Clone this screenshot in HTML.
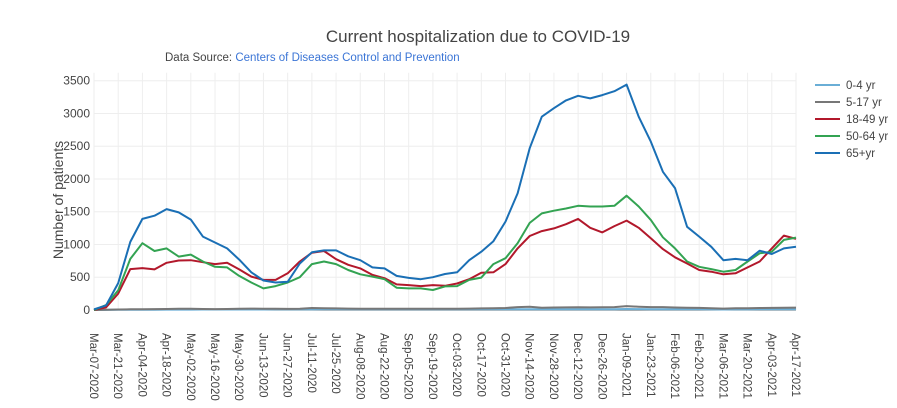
<!DOCTYPE html>
<html><head><meta charset="utf-8"><style>
body{margin:0;background:#fff;}
svg{display:block;font-family:"Liberation Sans",sans-serif;}
</style></head><body>
<svg id="chart" width="897" height="408" xmlns="http://www.w3.org/2000/svg">
<text x="478" y="42" text-anchor="middle" font-size="17" fill="#444">Current hospitalization due to COVID-19</text>
<text x="165" y="61" font-size="11.5" fill="#444">Data Source: <tspan fill="#3b75d6">Centers of Diseases Control and Prevention</tspan></text>
<text transform="translate(63,200) rotate(-90)" text-anchor="middle" font-size="14" fill="#444">Number of patients</text>
<g id="grid"></g><g id="yticks"></g><g id="xticks"></g><g id="series"></g><g id="legend"></g>
</svg>
<script>
const weeks = 59;
const xTickLabels = ["Mar-07-2020","Mar-21-2020","Apr-04-2020","Apr-18-2020","May-02-2020","May-16-2020","May-30-2020","Jun-13-2020","Jun-27-2020","Jul-11-2020","Jul-25-2020","Aug-08-2020","Aug-22-2020","Sep-05-2020","Sep-19-2020","Oct-03-2020","Oct-17-2020","Oct-31-2020","Nov-14-2020","Nov-28-2020","Dec-12-2020","Dec-26-2020","Jan-09-2021","Jan-23-2021","Feb-06-2021","Feb-20-2021","Mar-06-2021","Mar-20-2021","Apr-03-2021","Apr-17-2021"];
const yTicks = [0,500,1000,1500,2000,2500,3000,3500];
const seriesNames = ["0-4 yr","5-17 yr","18-49 yr","50-64 yr","65+yr"];
const seriesColors = ["#6aaed6","#777777","#b2182b","#33a352","#1a6fb5"];
const age0_4 = [0,2,3,4,5,5,6,6,6,7,7,8,8,8,8,9,9,9,9,10,10,10,10,10,10,10,10,10,10,10,10,10,10,10,10,10,12,12,12,12,12,12,12,12,15,14,12,12,10,10,10,9,8,9,9,10,10,10,10];
const age5_17 = [0,5,8,10,12,14,16,18,18,16,14,15,20,22,20,18,17,20,30,28,24,22,20,20,20,18,18,20,18,18,20,22,24,28,30,45,50,35,38,40,42,40,42,45,60,50,45,45,38,35,32,28,22,26,28,30,32,34,36];
const age18_49 = [0,40,250,625,640,620,720,755,760,730,700,720,620,510,460,460,560,740,875,900,775,690,635,535,485,390,380,365,380,370,405,470,570,575,700,940,1130,1205,1245,1310,1390,1255,1185,1280,1365,1255,1095,930,805,710,610,585,545,560,650,740,940,1135,1085];
const age50_64 = [0,75,300,780,1020,900,940,815,845,740,660,650,520,420,330,365,420,500,700,740,700,610,545,510,470,340,330,330,305,360,365,460,495,700,790,1020,1330,1475,1515,1550,1590,1580,1580,1590,1745,1580,1375,1110,940,740,660,625,585,610,740,865,890,1070,1105];
const age65 = [10,70,410,1040,1390,1440,1540,1490,1380,1120,1030,940,770,575,450,420,430,710,880,910,910,820,760,650,635,520,490,470,500,550,575,760,890,1050,1350,1780,2470,2950,3080,3200,3270,3230,3280,3340,3440,2950,2570,2110,1860,1270,1120,965,760,780,760,905,855,940,965];
const seriesData = [age0_4, age5_17, age18_49, age50_64, age65];

const X0=94, X1=796, Y0=310, YTOP=80.7;
const xs = i => X0 + (X1-X0)*i/(weeks-1);
const ys = v => Y0 - (Y0-YTOP)*v/3500;
const NS="http://www.w3.org/2000/svg";
function mk(tag, parent){const e=document.createElementNS(NS,tag);document.getElementById(parent).appendChild(e);return e;}

yTicks.forEach(t=>{
  const l=mk("line","grid");
  
  
  l.setAttribute("x1",X0);l.setAttribute("x2",X1);l.setAttribute("y1",ys(t));l.setAttribute("y2",ys(t));
  l.setAttribute("stroke",t===0?"#444":"#eee");l.setAttribute("stroke-width",t===0?1:1);
  const tx=mk("text","yticks");
  
  
  tx.setAttribute("x",X0-4);tx.setAttribute("y",ys(t)+4);tx.setAttribute("text-anchor","end");
  tx.setAttribute("font-size","12");tx.setAttribute("fill","#444");tx.textContent=t;
});
xTickLabels.forEach((lab,k)=>{
  const x=xs(k*2);
  const l=mk("line","grid");
  
  
  l.setAttribute("x1",x);l.setAttribute("x2",x);l.setAttribute("y1",YTOP-8);l.setAttribute("y2",Y0);
  l.setAttribute("stroke","#eee");
  const tx=mk("text","xticks");
  
  
  tx.setAttribute("transform",`translate(${x-4},333) rotate(90)`);
  tx.setAttribute("font-size","11.5");tx.setAttribute("fill","#444");tx.textContent=lab;
});
seriesData.forEach((d,s)=>{
  const p=mk("polyline","series");
  
  
  p.setAttribute("points",d.map((v,i)=>xs(i).toFixed(1)+","+ys(v).toFixed(1)).join(" "));
  p.setAttribute("fill","none");p.setAttribute("stroke",seriesColors[s]);p.setAttribute("stroke-width","2");
  p.setAttribute("stroke-linejoin","round");
  const ly=85+s*17;
  const ll=mk("line","legend");
  
  
  ll.setAttribute("x1",815);ll.setAttribute("x2",840);ll.setAttribute("y1",ly);ll.setAttribute("y2",ly);
  ll.setAttribute("stroke",seriesColors[s]);ll.setAttribute("stroke-width","2");
  const lt=mk("text","legend");
  
  
  lt.setAttribute("x",846);lt.setAttribute("y",ly+4);lt.setAttribute("font-size","11.5");lt.setAttribute("fill","#444");
  lt.textContent=seriesNames[s];
});
</script>
</body></html>
